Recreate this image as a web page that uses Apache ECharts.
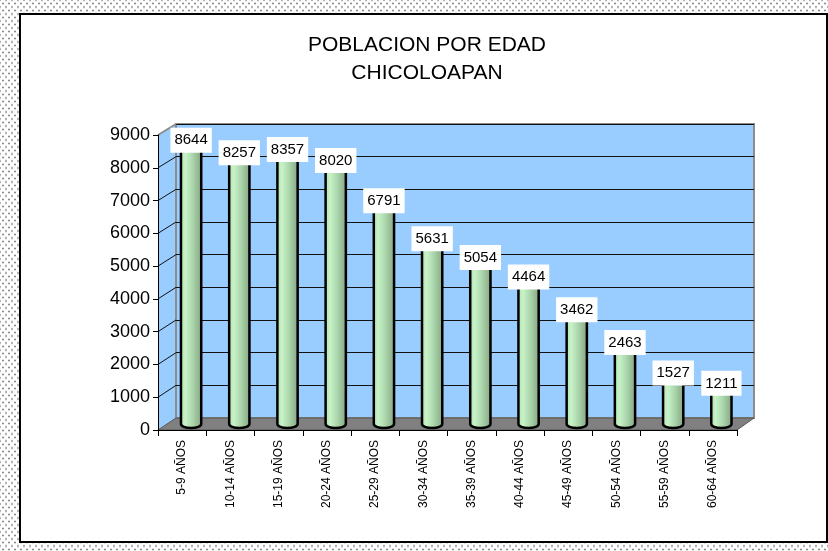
<!DOCTYPE html>
<html>
<head>
<meta charset="utf-8">
<script src="https://cdn.jsdelivr.net/npm/echarts@6/dist/echarts.min.js"></script>
<style>
html,body{margin:0;padding:0;}
body{width:828px;height:551px;position:relative;overflow:hidden;background-color:#fff;
background-image:radial-gradient(circle,#8a8a8a 0.9px,transparent 1.2px),radial-gradient(circle,#8a8a8a 0.9px,transparent 1.2px);
background-size:6px 7px,6px 7px;background-position:0 0,3px 3.5px;}
#box{position:absolute;left:19px;top:13px;width:809px;height:530px;box-sizing:border-box;border:2px solid #000;background:#fff;}
#chart{position:absolute;left:0;top:0;width:828px;height:551px;}
</style>
</head>
<body>
<div id="box"></div>
<div id="chart"></div>
<script>
// ---- data ----
const categories = ['5-9 AÑOS','10-14 AÑOS','15-19 AÑOS','20-24 AÑOS','25-29 AÑOS','30-34 AÑOS','35-39 AÑOS','40-44 AÑOS','45-49 AÑOS','50-54 AÑOS','55-59 AÑOS','60-64 AÑOS'];
const population = [8644, 8257, 8357, 8020, 6791, 5631, 5054, 4464, 3462, 2463, 1527, 1211];
const yMin = 0, yMax = 9000, yStep = 1000;
const titleLines = ['POBLACION POR EDAD', 'CHICOLOAPAN'];

// ---- layout ----
const FONT = '"Liberation Sans", Arial, sans-serif';
const F = {left:158, top:135, width:579, height:295};   // front plane
const B = {left:176, top:124, width:578, height:294};   // back wall
const M = {left:167, top:129.5, width:578.5, height:294.5}; // bar depth

const chart = echarts.init(document.getElementById('chart'), null, {renderer:'canvas'});

function hiddenX(i){return {type:'category', gridIndex:i, data:categories, show:false};}
function hiddenY(i, extra){return Object.assign({type:'value', gridIndex:i, min:yMin, max:yMax, interval:yStep,
  axisLine:{show:false}, axisTick:{show:false}, axisLabel:{show:false}, splitLine:{show:false}}, extra||{});}

const option = {
  backgroundColor:'transparent',
  animation:false,
  grid:[
    Object.assign({show:false}, F),
    Object.assign({show:true, backgroundColor:'#99ccff', borderColor:'#8c8c8c', borderWidth:2}, B),
    Object.assign({show:false}, M)
  ],
  xAxis:[
    {type:'category', gridIndex:0, data:categories, boundaryGap:true, z:10,
      axisLine:{show:true, lineStyle:{color:'#000', width:1}},
      axisTick:{show:true, interval:0, length:6, lineStyle:{color:'#000'}},
      axisLabel:{interval:0, rotate:90, margin:10, color:'#000', fontSize:12, fontFamily:FONT},
      splitLine:{show:false}},
    hiddenX(1), hiddenX(2)
  ],
  yAxis:[
    {type:'value', gridIndex:0, min:yMin, max:yMax, interval:yStep, z:10,
      axisLine:{show:true, lineStyle:{color:'#000', width:1}},
      axisTick:{show:true, length:5, lineStyle:{color:'#000'}},
      axisLabel:{margin:8, color:'#000', fontSize:18, fontFamily:FONT, formatter:function(v){return String(v);}},
      splitLine:{show:false}},
    hiddenY(1, {splitLine:{show:true, lineStyle:{color:'#111', width:1}}}),
    hiddenY(2)
  ],
  series:[{
    type:'custom', xAxisIndex:2, yAxisIndex:2, z:5,
    data: population.map((v,i)=>[i,v]),
    renderItem:function(params, api){
      const idx = api.value(0), v = api.value(1);
      const top = api.coord([idx, v]);
      const base = api.coord([idx, 0]);
      const hw = api.size([1,0])[0]*0.21;
      const x0 = top[0]-hw, x1 = top[0]+hw, yt = top[1], y0 = base[1];
      const ry = 4;
      return {type:'group', children:[
        {type:'path', shape:{pathData:`M ${x0} ${yt} L ${x0} ${y0} A ${hw} ${ry} 0 0 0 ${x1} ${y0} L ${x1} ${yt}`},
          style:{fill:new echarts.graphic.LinearGradient(0,0,1,0,[
            {offset:0,color:'#aee0ae'},{offset:0.25,color:'#c8f2c8'},{offset:0.6,color:'#a8d2a8'},{offset:1,color:'#82a082'}]),
            stroke:'#000', lineWidth:2.5}},
        {type:'text', z2:20, style:{text:String(v), x:top[0], y:yt-1, align:'center', verticalAlign:'middle',
          fill:'#000', font:'15px '+FONT, backgroundColor:'#fff', padding:[5,4]}}
      ]};
    }
  }]
};
chart.setOption(option);

// ---- 3D decoration (side wall, floor, side-wall grid lines) derived from the axes ----
const yF = v => chart.convertToPixel({yAxisIndex:0}, v);
const yB = v => chart.convertToPixel({yAxisIndex:1}, v);
const Fb = yF(yMin), Ft = yF(yMax), Bb = yB(yMin), Bt = yB(yMax);
const gfx = [
  {type:'polygon', z:-1, shape:{points:[[F.left,Fb],[F.left,Ft],[B.left,Bt],[B.left,Bb]]}, style:{fill:'#99ccff'}},
  {type:'polygon', z:1, shape:{points:[[F.left,Fb],[B.left,Bb],[B.left+B.width,Bb],[F.left+F.width,Fb]]}, style:{fill:'#808080', stroke:'#555', lineWidth:1}}
];
for (let v = yMin + yStep; v <= yMax; v += yStep) {
  gfx.push({type:'line', z:1, shape:{x1:F.left, y1:yF(v), x2:B.left, y2:yB(v)},
    style:{stroke: v===yMax ? '#8c8c8c' : '#111', lineWidth: v===yMax ? 2 : 1}});
}
gfx.push({type:'text', z:10, style:{text:titleLines[0], x:427, y:45, align:'center', verticalAlign:'middle', fill:'#000', font:'21px '+FONT}});
gfx.push({type:'text', z:10, style:{text:titleLines[1], x:427, y:73.5, align:'center', verticalAlign:'middle', fill:'#000', font:'21px '+FONT}});
chart.setOption({graphic:gfx});
</script>
</body>
</html>
